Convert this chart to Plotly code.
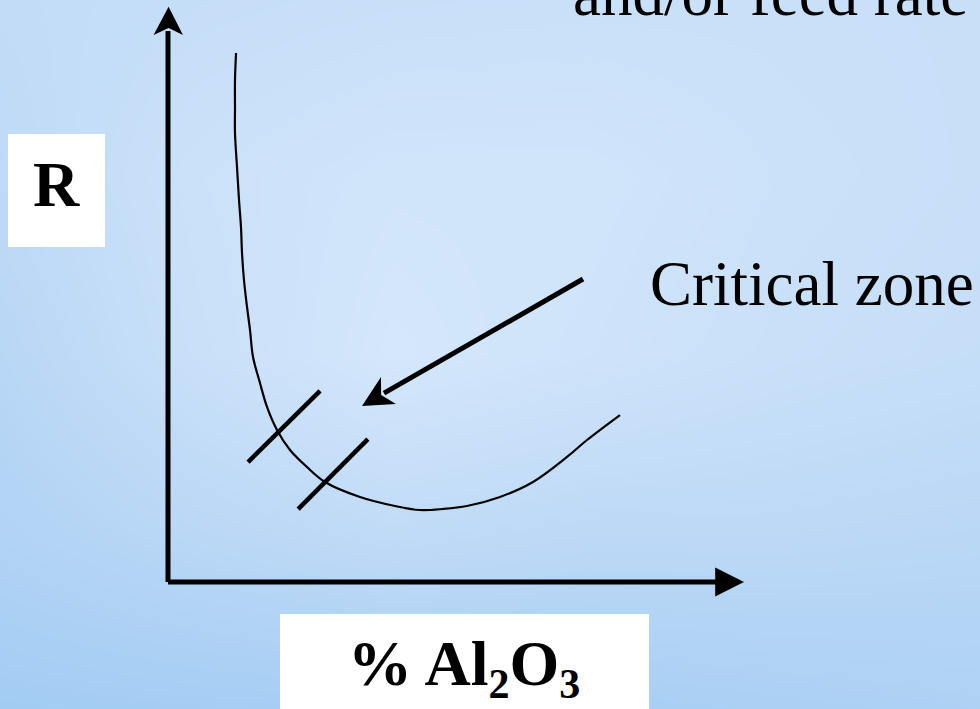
import numpy as np
import plotly.graph_objects as go

# ---- data (arbitrary units: % Al2O3 on x, R on y) ----
al2o3 = [1.181, 1.163, 1.163, 1.163, 1.198, 1.233, 1.267, 1.285, 1.319, 1.372,
         1.424, 1.476, 1.597, 1.719, 1.892, 2.118, 2.413, 2.726, 3.333, 3.941,
         4.375, 4.774, 5.191, 5.764, 6.337, 6.927, 7.274, 7.847]
r_vals = [9.216, 8.746, 8.275, 7.822, 7.230, 6.655, 6.185, 5.732, 5.261, 4.791,
          4.390, 3.920, 3.467, 3.049, 2.648, 2.300, 2.003, 1.742, 1.481, 1.324,
          1.254, 1.272, 1.324, 1.481, 1.742, 2.178, 2.474, 2.909]
zone_lo_x = [1.39, 2.64]
zone_lo_y = [2.09, 3.33]
zone_hi_x = [2.26, 3.47]
zone_hi_y = [1.27, 2.49]

W, H = 980, 709
PX_X, PX_Y = 57.6, 57.4          # pixels per unit
ORIG_X, ORIG_Y = 168, 582          # origin position in pixels
X_RANGE = [-ORIG_X / PX_X, (W - ORIG_X) / PX_X]
Y_RANGE = [(ORIG_Y - H) / PX_Y, ORIG_Y / PX_Y]

fig = go.Figure()

# background sky gradient
bg = np.array([
    [0.60, 0.66, 0.70, 0.72, 0.72, 0.70],
    [0.55, 0.76, 0.86, 0.86, 0.76, 0.70],
    [0.45, 0.72, 0.92, 0.82, 0.72, 0.66],
    [0.35, 0.48, 0.58, 0.52, 0.52, 0.48],
    [0.15, 0.18, 0.20, 0.22, 0.26, 0.30],
])
fig.add_trace(go.Heatmap(
    z=bg[::-1],
    x=np.linspace(X_RANGE[0], X_RANGE[1], bg.shape[1]),
    y=np.linspace(Y_RANGE[0], Y_RANGE[1], bg.shape[0]),
    colorscale=[[0, "#98c7f2"], [0.5, "#bcd8f6"], [1, "#d9eafc"]],
    zmin=0, zmax=1, zsmooth="best", showscale=False, hoverinfo="skip"))

fig.add_trace(go.Scatter(x=al2o3, y=r_vals, mode="lines",
                         line=dict(color="black", width=2.2, shape="spline", smoothing=1.0,
                                   simplify=False),
                         hoverinfo="skip"))
for xs, ys in [(zone_lo_x, zone_lo_y), (zone_hi_x, zone_hi_y)]:
    fig.add_trace(go.Scatter(x=xs, y=ys, mode="lines",
                             line=dict(color="black", width=4.5), hoverinfo="skip"))

shapes = []
# axes
shapes.append(dict(type="line", x0=0, y0=0, x1=0, y1=9.6, line=dict(color="black", width=5)))
shapes.append(dict(type="line", x0=0, y0=0, x1=9.55, y1=0, line=dict(color="black", width=5)))
shapes.append(dict(type="path", path="M -0.25 9.53 L 0.01 10.02 L 0.26 9.53 L 0.01 9.65 Z",
                   fillcolor="black", line=dict(color="black", width=0)))
shapes.append(dict(type="path", path="M 9.50 0.253 L 10.0 0 L 9.50 -0.253 Z",
                   fillcolor="black", line=dict(color="black", width=0)))
# critical zone arrow
shapes.append(dict(type="line", x0=7.205, y0=5.279, x1=3.75, y1=3.29, line=dict(color="black", width=5)))
shapes.append(dict(type="path", path="M 3.368 3.066 L 3.698 3.571 L 3.70 3.258 L 3.958 3.101 Z",
                   fillcolor="black", line=dict(color="black", width=0)))
# white label boxes
shapes.append(dict(type="rect", xref="paper", yref="paper", x0=8 / W, x1=105 / W,
                   y0=1 - 247 / H, y1=1 - 134 / H, fillcolor="white", line=dict(width=0)))
shapes.append(dict(type="rect", xref="paper", yref="paper", x0=280 / W, x1=649 / W,
                   y0=0, y1=1 - 614 / H, fillcolor="white", line=dict(width=0)))

serif = "Liberation Serif, Times New Roman, serif"
sub = '<sub><span style="font-size:42px">%s</span></sub>'
ann = [
    dict(text="<b>R</b>", x=56.5 / W, y=1 - 222 / H, xanchor="center", yanchor="bottom",
         font=dict(family=serif, size=64, color="black")),
    dict(text="<b>% Al" + sub % "2" + "O" + sub % "3" + "</b>", x=464 / W, y=1 - 709 / H,
         xanchor="center", yanchor="bottom", font=dict(family=serif, size=64, color="black")),
    dict(text="Critical zone", x=648 / W, y=1 - 321 / H, xanchor="left", yanchor="bottom",
         font=dict(family=serif, size=63, color="black")),
    dict(text="and/or feed rate", x=571 / W, y=1 - 31 / H, xanchor="left", yanchor="bottom",
         font=dict(family=serif, size=63, color="black")),
]
for a in ann:
    a.update(xref="paper", yref="paper", showarrow=False)

fig.update_layout(
    width=W, height=H, margin=dict(l=0, r=0, t=0, b=0),
    paper_bgcolor="#c4dcf6", plot_bgcolor="#c4dcf6",
    showlegend=False, shapes=shapes, annotations=ann,
    xaxis=dict(range=X_RANGE, visible=False, fixedrange=True),
    yaxis=dict(range=Y_RANGE, visible=False, fixedrange=True),
)
fig.write_html("out.html", config=dict(displayModeBar=False),
               post_script="document.body.style.margin='0';document.body.style.background='#c4dcf6';")
